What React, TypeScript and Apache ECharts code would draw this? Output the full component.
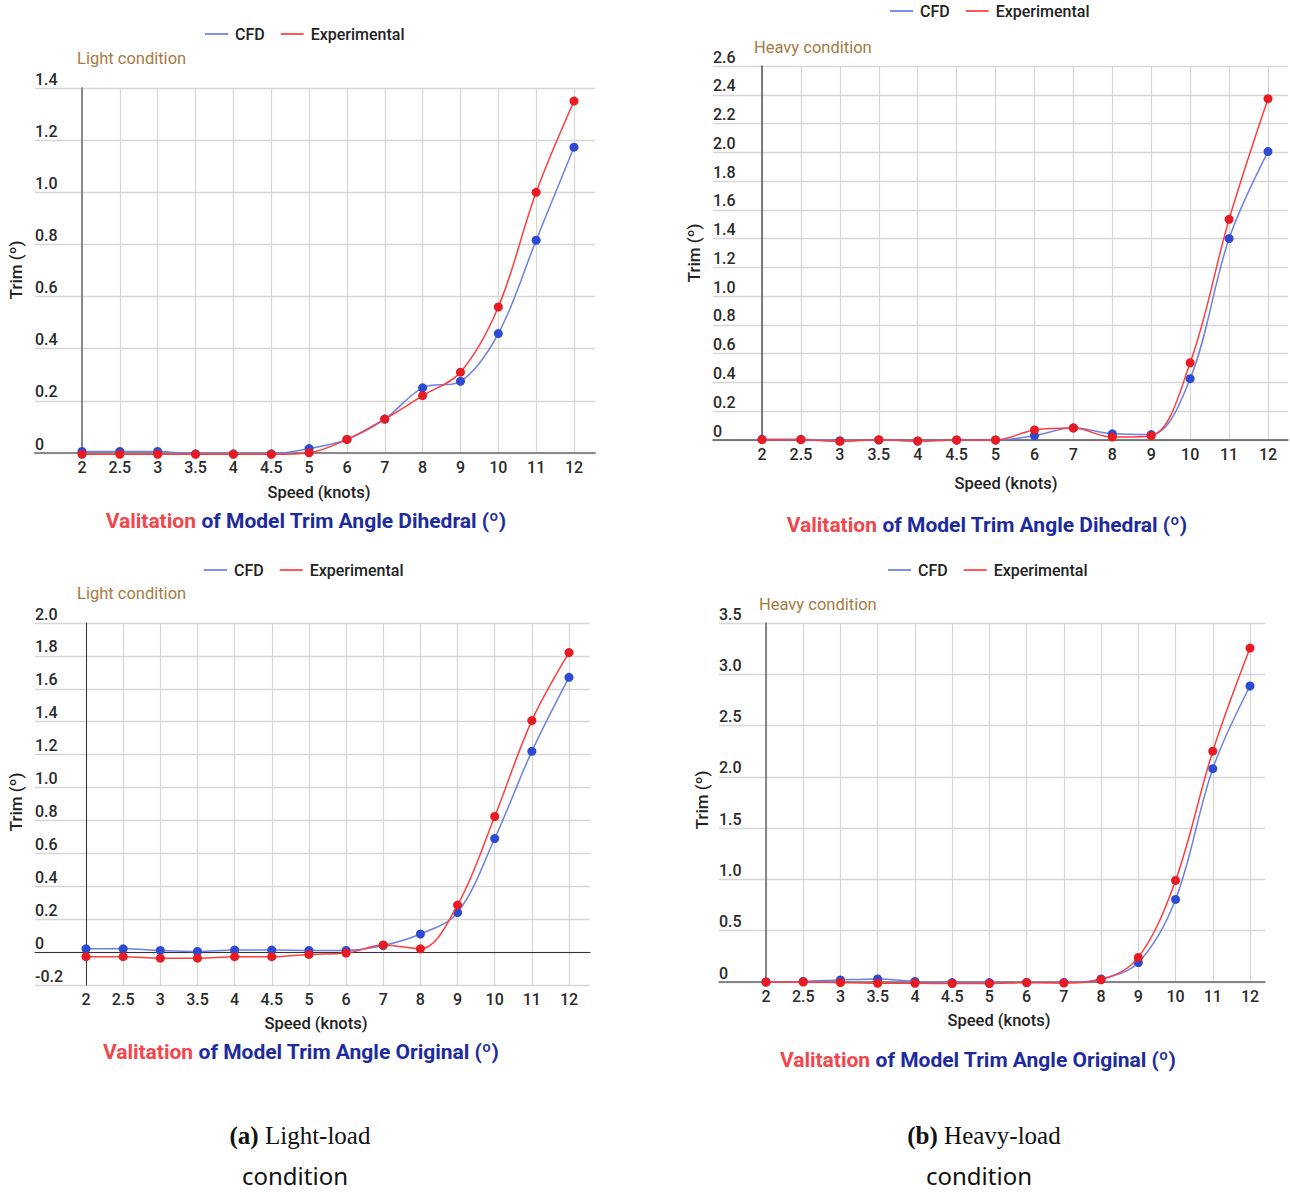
import React, { useEffect, useRef } from 'react';
import * as echarts from 'echarts';

// ---------- data ----------
const speeds = ['2', '2.5', '3', '3.5', '4', '4.5', '5', '6', '7', '8', '9', '10', '11', '12'];

const lightDihedralCFD = [0.006, 0.006, 0.006, -0.003, -0.003, -0.003, 0.017, 0.052, 0.13, 0.25, 0.275, 0.458, 0.816, 1.173];
const lightDihedralExp = [-0.005, -0.005, -0.005, -0.005, -0.005, -0.005, 0.001, 0.052, 0.13, 0.22, 0.31, 0.56, 1.0, 1.35];

const heavyDihedralCFD = [0.005, 0.005, -0.005, 0, -0.007, 0, 0, 0.03, 0.085, 0.043, 0.038, 0.426, 1.4, 2.005];
const heavyDihedralExp = [0.002, 0.002, -0.01, 0.002, -0.007, 0, 0, 0.07, 0.083, 0.02, 0.03, 0.537, 1.534, 2.373];

const lightOriginalCFD = [0.02, 0.02, 0.01, 0.004, 0.012, 0.012, 0.01, 0.01, 0.04, 0.11, 0.24, 0.69, 1.22, 1.67];
const lightOriginalExp = [-0.028, -0.028, -0.037, -0.037, -0.028, -0.028, -0.014, -0.006, 0.043, 0.02, 0.286, 0.824, 1.407, 1.82];

const heavyOriginalCFD = [0, 0.006, 0.02, 0.03, 0.006, -0.006, -0.006, -0.005, -0.005, 0.03, 0.19, 0.805, 2.08, 2.886];
const heavyOriginalExp = [0, 0, -0.006, -0.012, -0.012, -0.015, -0.015, -0.006, -0.01, 0.022, 0.24, 0.99, 2.25, 3.256];

// y axis ranges: [min, max, step]
const lightDihedralRange = [0, 1.4, 0.2];
const heavyDihedralRange = [0, 2.6, 0.2];
const lightOriginalRange = [-0.2, 2.0, 0.2];
const heavyOriginalRange = [0, 3.5, 0.5];

const seriesNames = ['CFD', 'Experimental'];
const conditionLabels = ['Light condition', 'Heavy condition'];
const titleModels = ['Dihedral', 'Original'];
const captionLetters = ['(a)', '(b)'];
const captionTexts = [' Light-load', ' Heavy-load'];
const captionSecond = 'condition';
const xAxisName = 'Speed (knots)';
const yAxisName = 'Trim (º)';

// ---------- layout ----------
const FONT = 'Roboto, "Noto Sans", sans-serif';
const panels = [
  {
    cfd: lightDihedralCFD, exp: lightDihedralExp, range: lightDihedralRange,
    cond: conditionLabels[0], model: titleModels[0],
    gA: { left: 35, top: 88, width: 560, height: 365 }, bLeft: 82, bWidth: 492,
    condPos: [77, 58], legendPos: [205, 35], xNamePos: [319, 492], titlePos: [306, 521], yNamePos: [16, 270],
    axisColor: '#8a8a8a', axisWidth: 2,
  },
  {
    cfd: heavyDihedralCFD, exp: heavyDihedralExp, range: heavyDihedralRange,
    cond: conditionLabels[1], model: titleModels[0],
    gA: { left: 713, top: 66, width: 575, height: 374 }, bLeft: 762, bWidth: 506,
    condPos: [754, 47], legendPos: [890, 12], xNamePos: [1006, 483], titlePos: [987, 525], yNamePos: [694, 253],
    axisColor: '#555', axisWidth: 1.5,
  },
  {
    cfd: lightOriginalCFD, exp: lightOriginalExp, range: lightOriginalRange,
    cond: conditionLabels[0], model: titleModels[1],
    gA: { left: 35, top: 623, width: 555, height: 362 }, bLeft: 86, bWidth: 483,
    condPos: [77, 593], legendPos: [204, 571], xNamePos: [316, 1023], titlePos: [301, 1052], yNamePos: [16, 802],
    axisColor: '#333', axisWidth: 1,
  },
  {
    cfd: heavyOriginalCFD, exp: heavyOriginalExp, range: heavyOriginalRange,
    cond: conditionLabels[1], model: titleModels[1],
    gA: { left: 719, top: 623, width: 546, height: 359 }, bLeft: 766, bWidth: 484,
    condPos: [759, 604], legendPos: [888, 571], xNamePos: [999, 1020], titlePos: [978, 1060], yNamePos: [702, 800],
    axisColor: '#666', axisWidth: 1.5,
  },
];

const captions = [
  { x: 300, y: 1135, y2: 1175, x2: 295 },
  { x: 984, y: 1135, y2: 1175, x2: 979 },
];

const GRID_COLOR = '#d6d6d6';
const LABEL_COLOR = '#2a2a2a';
const CFD_LINE = '#6c80e6';
const CFD_POINT = '#2c4ad2';
const EXP_LINE = '#ff3d3d';
const EXP_POINT = '#e81a22';

function fmt(v: number) {
  if (Math.abs(v) < 1e-9) return '0';
  return v.toFixed(1);
}

function buildOption() {
  const grid: any[] = [];
  const xAxis: any[] = [];
  const yAxis: any[] = [];
  const series: any[] = [];
  const legend: any[] = [];
  const graphic: any[] = [];

  panels.forEach((p, i) => {
    const a = 2 * i;
    const b = 2 * i + 1;
    const [mn, mx, st] = p.range;
    grid.push({ left: p.gA.left, top: p.gA.top, width: p.gA.width, height: p.gA.height, containLabel: false });
    grid.push({ left: p.bLeft, top: p.gA.top, width: p.bWidth, height: p.gA.height, containLabel: false });

    xAxis.push({
      gridIndex: a, type: 'value', min: 0, max: 1,
      axisLine: { show: true, onZero: true, lineStyle: { color: p.axisColor, width: p.axisWidth } },
      axisLabel: { show: false }, axisTick: { show: false }, splitLine: { show: false },
    });
    xAxis.push({
      gridIndex: b, type: 'category', boundaryGap: false, data: speeds,
      axisLine: { show: false, onZero: false }, axisTick: { show: false },
      axisLabel: { interval: 0, margin: 6, fontSize: 16, fontWeight: 500, color: LABEL_COLOR, fontFamily: FONT },
      splitLine: { show: true, interval: 0, lineStyle: { color: GRID_COLOR, width: 1.2 } },
    });

    yAxis.push({
      gridIndex: a, type: 'value', min: mn, max: mx, interval: st,
      axisLine: { show: false }, axisTick: { show: false },
      splitLine: { show: true, lineStyle: { color: GRID_COLOR, width: 1.4 } },
      axisLabel: {
        inside: true, align: 'left', verticalAlign: 'bottom', margin: 0, padding: [0, 0, 1, 0],
        fontSize: 16, fontWeight: 500, color: LABEL_COLOR, fontFamily: FONT, formatter: fmt,
      },
    });
    yAxis.push({
      gridIndex: b, type: 'value', min: mn, max: mx, interval: st,
      axisLine: { show: true, onZero: false, lineStyle: { color: p.axisColor, width: p.axisWidth } },
      axisTick: { show: false }, axisLabel: { show: false }, splitLine: { show: false },
    });

    series.push({
      type: 'line', name: seriesNames[0], xAxisIndex: b, yAxisIndex: b, data: p.cfd,
      smooth: 0.35, symbol: 'circle', symbolSize: 9, showSymbol: true, clip: false, z: 3,
      lineStyle: { color: CFD_LINE, width: 1.5 }, itemStyle: { color: CFD_POINT },
    });
    series.push({
      type: 'line', name: seriesNames[1], xAxisIndex: b, yAxisIndex: b, data: p.exp,
      smooth: 0.35, symbol: 'circle', symbolSize: 9, showSymbol: true, clip: false, z: 4,
      lineStyle: { color: EXP_LINE, width: 1.5 }, itemStyle: { color: EXP_POINT },
    });

    legend.push({
      left: p.legendPos[0], top: p.legendPos[1] - 9, padding: 0, icon: 'rect',
      itemWidth: 23, itemHeight: 2, itemGap: 16, selectedMode: false,
      textStyle: { fontSize: 16, fontWeight: 500, color: '#222', fontFamily: FONT, padding: [0, 0, 0, 2] },
      data: [
        { name: seriesNames[0], itemStyle: { color: '#7f90ea' } },
        { name: seriesNames[1], itemStyle: { color: '#ff5858' } },
      ],
    });

    graphic.push({
      type: 'text', x: p.condPos[0], y: p.condPos[1],
      style: { text: p.cond, fill: '#a57a42', font: `16.5px ${FONT}`, align: 'left', verticalAlign: 'middle', textAlign: 'left', textVerticalAlign: 'middle' },
    });
    graphic.push({
      type: 'text', x: p.xNamePos[0], y: p.xNamePos[1],
      style: { text: xAxisName, fill: '#222', font: `500 16.5px ${FONT}`, align: 'center', verticalAlign: 'middle', textAlign: 'center', textVerticalAlign: 'middle' },
    });
    graphic.push({
      type: 'text', x: p.yNamePos[0], y: p.yNamePos[1], rotation: Math.PI / 2,
      style: { text: yAxisName, fill: '#222', font: `500 17px ${FONT}`, align: 'center', verticalAlign: 'middle', textAlign: 'center', textVerticalAlign: 'middle' },
    });
    graphic.push({
      type: 'text', x: p.titlePos[0], y: p.titlePos[1],
      style: {
        text: `{r|Valitation} {b|of Model Trim Angle ${p.model} (º)}`,
        align: 'center', verticalAlign: 'middle', textAlign: 'center', textVerticalAlign: 'middle',
        font: `bold 21px ${FONT}`,
        rich: {
          r: { fill: '#f2464c', fontSize: 21, fontWeight: 'bold', fontFamily: FONT },
          b: { fill: '#1d2b9e', fontSize: 21, fontWeight: 'bold', fontFamily: FONT },
        },
      },
    });
  });

  captions.forEach((c, i) => {
    graphic.push({
      type: 'text', x: c.x, y: c.y,
      style: {
        text: `{b|${captionLetters[i]}}{n|${captionTexts[i]}}`,
        align: 'center', verticalAlign: 'middle', textAlign: 'center', textVerticalAlign: 'middle',
        font: `25px "Liberation Serif", serif`,
        rich: {
          b: { fill: '#111', fontSize: 25, fontWeight: 'bold', fontFamily: '"Liberation Serif", serif' },
          n: { fill: '#111', fontSize: 25, fontFamily: '"Liberation Serif", serif' },
        },
      },
    });
    graphic.push({
      type: 'text', x: c.x2, y: c.y2,
      style: {
        text: captionSecond, fill: '#111', font: `24px "Noto Sans", sans-serif`, lineHeight: 26,
        align: 'center', verticalAlign: 'middle', textAlign: 'center', textVerticalAlign: 'middle',
      },
    });
  });

  return {
    animation: false,
    backgroundColor: '#fff',
    grid, xAxis, yAxis, series, legend, graphic,
  };
}

export default function App() {
  const ref = useRef<HTMLDivElement>(null);
  useEffect(() => {
    const chart = echarts.init(ref.current as HTMLDivElement, null, { renderer: 'svg' });
    chart.setOption(buildOption() as any);
    return () => chart.dispose();
  }, []);
  return (
    <div
      ref={ref}
      style={{ position: 'absolute', left: 0, top: 0, width: 1290, height: 1193, background: '#fff' }}
    />
  );
}
